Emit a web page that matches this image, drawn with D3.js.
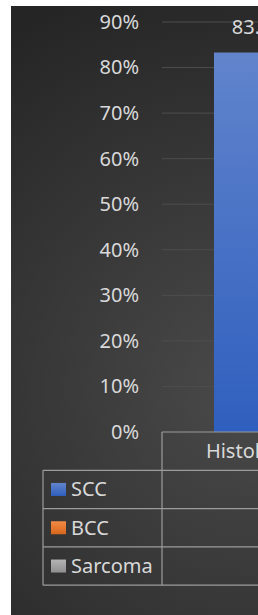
<html>
<head>
<title>Histological type</title>
<style type="text/css">
* { margin: 0; padding: 0; }
body { background: #fff; }
text { font-family: "Noto Sans", sans-serif; font-size: 20px; fill: #d9d9d9; }
</style>
<script type="text/javascript" src="https://cdn.jsdelivr.net/npm/d3@7"></script>
</head>
<body>
<div id="chart"></div>
<script type="text/javascript">
// values (BCC and Sarcoma bars sit outside the visible crop)
var categories = ["Histological type of the tumour"];
var seriesNames = ["SCC", "BCC", "Sarcoma"];
var seriesValues = [0.833, 0.083, 0.083];
var yTicks = [0, 0.1, 0.2, 0.3, 0.4, 0.5, 0.6, 0.7, 0.8, 0.9];

var colors = {
  SCC: ["#6184cc", "#2f5fbe"],
  BCC: ["#f28a45", "#d8661c"],
  Sarcoma: ["#b4b4b4", "#8f8f8f"]
};

var width = 258, height = 615;
var plotLeft = 162, plotRight = 542, plotTop = 22, plotBottom = 432;
var rowH = 38.3;

var svg = d3.select("#chart").append("svg")
  .attr("width", width)
  .attr("height", height);

var defs = svg.append("defs");

var bg = defs.append("radialGradient")
  .attr("id", "bgGrad")
  .attr("gradientUnits", "userSpaceOnUse")
  .attr("cx", 250).attr("cy", 390).attr("r", 430);
bg.append("stop").attr("offset", 0).attr("stop-color", "#4a4a4a");
bg.append("stop").attr("offset", 1).attr("stop-color", "#252525");

seriesNames.forEach(function(name) {
  var g = defs.append("linearGradient")
    .attr("id", "grad_" + name)
    .attr("x1", 0).attr("y1", 0).attr("x2", 0).attr("y2", 1);
  g.append("stop").attr("offset", 0).attr("stop-color", colors[name][0]);
  g.append("stop").attr("offset", 1).attr("stop-color", colors[name][1]);
});

// chart area
svg.append("rect")
  .attr("x", 11).attr("y", 6)
  .attr("width", 700).attr("height", 609)
  .attr("fill", "url(#bgGrad)");

var y = d3.scaleLinear().domain([0, 0.9]).range([plotBottom, plotTop]);

var x0 = d3.scaleBand().domain(categories).range([plotLeft, plotRight]);
var x1 = d3.scaleBand().domain(seriesNames)
  .range([0, x0.bandwidth()])
  .paddingInner(0)
  .paddingOuter(0.565);

// gridlines
svg.append("g")
  .selectAll("line")
  .data(yTicks.slice(1))
  .enter().append("line")
  .attr("x1", plotLeft).attr("x2", plotRight)
  .attr("y1", function(d) { return y(d); })
  .attr("y2", function(d) { return y(d); })
  .attr("stroke", "#4d4d4d")
  .attr("stroke-width", 1);

// y axis labels
var yAxis = d3.axisLeft(y).tickValues(yTicks).tickFormat(d3.format(".0%")).tickSize(0).tickPadding(0);
var yg = svg.append("g").attr("transform", "translate(139,0)").call(yAxis);
yg.select(".domain").remove();
yg.selectAll("text")
  .attr("fill", "#d9d9d9")
  .style("font-family", "'Noto Sans', sans-serif")
  .style("font-size", "20px");

// bars
categories.forEach(function(cat) {
  var g = svg.append("g").attr("transform", "translate(" + x0(cat) + ",0)");
  g.selectAll("rect")
    .data(seriesNames)
    .enter().append("rect")
    .attr("x", function(d) { return x1(d); })
    .attr("y", function(d, i) { return y(seriesValues[i]); })
    .attr("width", x1.bandwidth())
    .attr("height", function(d, i) { return plotBottom - y(seriesValues[i]); })
    .attr("fill", function(d) { return "url(#grad_" + d + ")"; });
  g.selectAll("text.val")
    .data(seriesNames)
    .enter().append("text")
    .attr("class", "val")
    .attr("x", function(d) { return x1(d) + x1.bandwidth() / 2; })
    .attr("y", function(d, i) { return y(seriesValues[i]) - 19; })
    .attr("text-anchor", "middle")
    .text(function(d, i) { return d3.format(".1%")(seriesValues[i]); });
});

// data table
var tableLeft = 43;
var grid = svg.append("g").attr("stroke", "#9c9c9c").attr("stroke-width", 1.2);
grid.append("line").attr("x1", plotLeft).attr("x2", plotRight).attr("y1", plotBottom).attr("y2", plotBottom);
for (var r = 0; r <= seriesNames.length; r++) {
  var ly = plotBottom + rowH * (r + 1);
  grid.append("line").attr("x1", tableLeft).attr("x2", plotRight).attr("y1", ly).attr("y2", ly);
}
grid.append("line").attr("x1", tableLeft).attr("x2", tableLeft)
  .attr("y1", plotBottom + rowH).attr("y2", plotBottom + rowH * 4);
grid.append("line").attr("x1", plotLeft).attr("x2", plotLeft)
  .attr("y1", plotBottom).attr("y2", plotBottom + rowH * 4);
grid.append("line").attr("x1", plotRight).attr("x2", plotRight)
  .attr("y1", plotBottom).attr("y2", plotBottom + rowH * 4);

// category header
categories.forEach(function(cat) {
  svg.append("text")
    .attr("x", x0(cat) + x0.bandwidth() / 2)
    .attr("y", plotBottom + rowH / 2 + 7)
    .attr("text-anchor", "middle")
    .text(cat);
});

// legend rows
seriesNames.forEach(function(name, i) {
  var cy = plotBottom + rowH * (i + 1) + rowH / 2;
  svg.append("rect")
    .attr("x", 51).attr("y", cy - 6.5)
    .attr("width", 15).attr("height", 13)
    .attr("fill", "url(#grad_" + name + ")");
  svg.append("text")
    .attr("x", 71).attr("y", cy + 7)
    .text(name);
  categories.forEach(function(cat) {
    svg.append("text")
      .attr("x", x0(cat) + x0.bandwidth() / 2)
      .attr("y", cy + 7)
      .attr("text-anchor", "middle")
      .text(d3.format(".1%")(seriesValues[i]));
  });
});
</script>
</body>
</html>
